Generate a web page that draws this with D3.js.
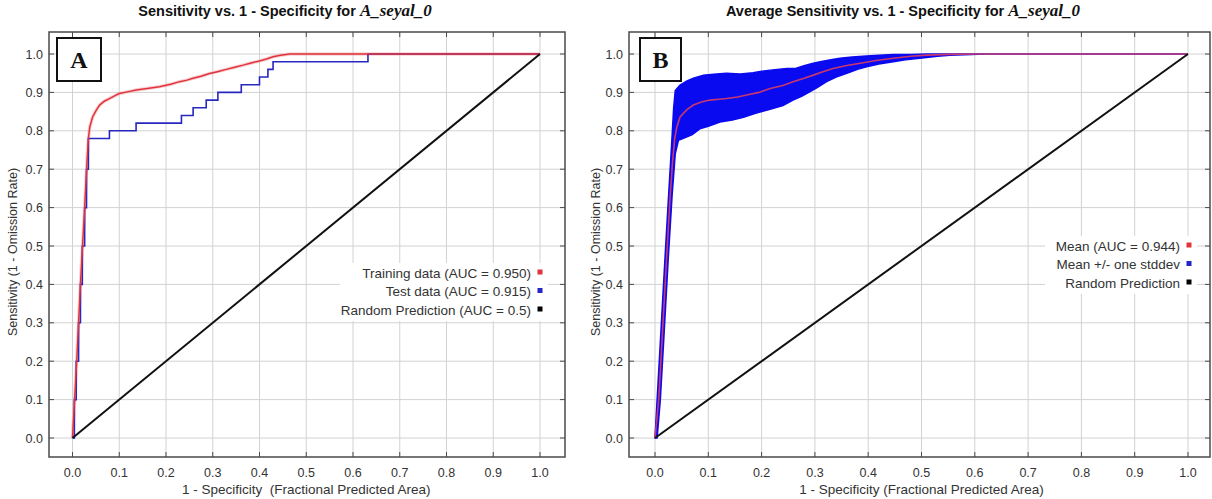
<!DOCTYPE html>
<html>
<head>
<meta charset="utf-8">
<script src="https://cdn.jsdelivr.net/npm/d3@7"></script>
<style>
  body { margin: 0; background: #fff; }
  svg { display: block; font-family: "Liberation Sans", Arial, sans-serif; }
</style>
</head>
<body>
<svg id="chart" width="1212" height="499"></svg>
<script>
// tick values (both axes)
const ticks = [0, 0.1, 0.2, 0.3, 0.4, 0.5, 0.6, 0.7, 0.8, 0.9, 1.0];

// panel A - training curve
const trainX = [0, 0.009, 0.017, 0.026, 0.031, 0.034, 0.037, 0.043, 0.05, 0.058, 0.068, 0.079, 0.09, 0.10, 0.12, 0.136, 0.16, 0.186, 0.21, 0.229, 0.245, 0.258, 0.275, 0.293, 0.31, 0.329, 0.345, 0.365, 0.38, 0.40, 0.415, 0.429, 0.445, 0.465, 1.0];
const trainY = [0, 0.20, 0.40, 0.60, 0.72, 0.78, 0.81, 0.836, 0.852, 0.867, 0.877, 0.884, 0.891, 0.897, 0.902, 0.906, 0.91, 0.915, 0.921, 0.928, 0.932, 0.937, 0.942, 0.949, 0.954, 0.96, 0.965, 0.971, 0.976, 0.982, 0.987, 0.993, 0.997, 1.0, 1.0];

// panel A - test curve (steps)
const testX = [0, 0.004, 0.008, 0.013, 0.017, 0.021, 0.026, 0.030, 0.034, 0.079, 0.136, 0.233, 0.258, 0.286, 0.311, 0.361, 0.400, 0.418, 0.429, 0.632, 1.0];
const testY = [0, 0.10, 0.20, 0.30, 0.40, 0.50, 0.60, 0.70, 0.78, 0.80, 0.82, 0.84, 0.86, 0.88, 0.90, 0.92, 0.94, 0.96, 0.98, 1.0, 1.0];

// panel B - mean curve
const meanX = [0, 0.007, 0.013, 0.021, 0.028, 0.033, 0.037, 0.041, 0.047, 0.06, 0.072, 0.087, 0.103, 0.12, 0.134, 0.155, 0.172, 0.195, 0.216, 0.24, 0.259, 0.28, 0.297, 0.315, 0.334, 0.36, 0.385, 0.415, 0.447, 0.48, 0.51, 0.55, 0.60, 1.0];
const meanY = [0, 0.10, 0.25, 0.45, 0.62, 0.72, 0.78, 0.81, 0.836, 0.855, 0.867, 0.875, 0.88, 0.882, 0.884, 0.888, 0.893, 0.90, 0.91, 0.918, 0.928, 0.937, 0.945, 0.954, 0.962, 0.97, 0.976, 0.983, 0.989, 0.994, 0.997, 0.999, 1.0, 1.0];

// panel B - mean +/- one stddev
const upperX = [0, 0.004, 0.01, 0.018, 0.025, 0.031, 0.035, 0.038, 0.047, 0.06, 0.072, 0.091, 0.11, 0.134, 0.16, 0.184, 0.2, 0.216, 0.247, 0.265, 0.278, 0.295, 0.31, 0.33, 0.347, 0.37, 0.397, 0.42, 0.447, 0.48, 0.51, 1.0];
const upperY = [0, 0.10, 0.25, 0.45, 0.62, 0.76, 0.86, 0.905, 0.919, 0.93, 0.937, 0.945, 0.947, 0.95, 0.948, 0.951, 0.955, 0.958, 0.962, 0.963, 0.969, 0.975, 0.98, 0.985, 0.989, 0.992, 0.995, 0.997, 0.999, 0.999, 1.0, 1.0];
const lowerX = [0.004, 0.01, 0.017, 0.025, 0.032, 0.038, 0.044, 0.059, 0.07, 0.084, 0.1, 0.122, 0.145, 0.166, 0.19, 0.216, 0.24, 0.259, 0.275, 0.291, 0.305, 0.322, 0.34, 0.36, 0.38, 0.397, 0.42, 0.447, 0.47, 0.497, 0.53, 0.553, 0.62, 1.0];
const lowerY = [0, 0.10, 0.27, 0.47, 0.63, 0.74, 0.775, 0.784, 0.79, 0.805, 0.812, 0.823, 0.828, 0.835, 0.846, 0.856, 0.866, 0.88, 0.89, 0.902, 0.913, 0.928, 0.94, 0.95, 0.96, 0.967, 0.974, 0.98, 0.985, 0.989, 0.994, 0.997, 1.0, 1.0];

// diagonal
const randomX = [0, 1];
const randomY = [0, 1];

const legendA = ['Training data (AUC = 0.950)', 'Test data (AUC = 0.915)', 'Random Prediction (AUC = 0.5)'];
const legendB = ['Mean (AUC = 0.944)', 'Mean +/- one stddev', 'Random Prediction'];
const legendColors = ['#e0343c', '#2424c8', '#000'];

const svg = d3.select('#chart');
const pts = (xs, ys) => xs.map((x, i) => [x, ys[i]]);

function panel(cfg) {
    const x = d3.scaleLinear().domain([0, 1]).range(cfg.xr);
    const y = d3.scaleLinear().domain([0, 1]).range([438, 54]);
    const g = svg.append('g');
    const [fl, fr, ft, fb] = [cfg.frame[0], cfg.frame[1], 32, 457];

    // grid
    g.selectAll('.gx').data(ticks).enter().append('line')
        .attr('x1', (d) => x(d)).attr('x2', (d) => x(d))
        .attr('y1', ft).attr('y2', fb)
        .attr('stroke', '#d2d2d2').attr('stroke-width', 1);
    g.selectAll('.gy').data(ticks).enter().append('line')
        .attr('x1', fl).attr('x2', fr)
        .attr('y1', (d) => y(d)).attr('y2', (d) => y(d))
        .attr('stroke', '#d2d2d2').attr('stroke-width', 1);

    const line = d3.line().x((d) => x(d[0])).y((d) => y(d[1]));
    cfg.draw(g, x, y, line);

    // diagonal
    g.append('path')
        .attr('d', line(pts(randomX, randomY)))
        .attr('fill', 'none').attr('stroke', '#111').attr('stroke-width', 2);

    // frame + inside ticks
    g.append('rect')
        .attr('x', fl).attr('y', ft).attr('width', fr - fl).attr('height', fb - ft)
        .attr('fill', 'none').attr('stroke', '#4a4a4a').attr('stroke-width', 1.5);
    ticks.forEach((t) => {
        g.append('line').attr('x1', x(t)).attr('x2', x(t)).attr('y1', fb).attr('y2', fb - 5).attr('stroke', '#4a4a4a');
        g.append('line').attr('x1', x(t)).attr('x2', x(t)).attr('y1', ft).attr('y2', ft + 5).attr('stroke', '#4a4a4a');
        g.append('line').attr('x1', fl).attr('x2', fl + 5).attr('y1', y(t)).attr('y2', y(t)).attr('stroke', '#4a4a4a');
        g.append('line').attr('x1', fr).attr('x2', fr - 5).attr('y1', y(t)).attr('y2', y(t)).attr('stroke', '#4a4a4a');
    });

    // tick labels
    g.selectAll('.tx').data(ticks).enter().append('text')
        .attr('x', (d) => x(d)).attr('y', 477)
        .attr('text-anchor', 'middle').attr('font-size', 12.5).attr('fill', '#333')
        .text((d) => d.toFixed(1));
    g.selectAll('.ty').data(ticks).enter().append('text')
        .attr('x', fl - 6).attr('y', (d) => y(d) + 4.5)
        .attr('text-anchor', 'end').attr('font-size', 12.5).attr('fill', '#333')
        .text((d) => d.toFixed(1));

    // axis titles
    g.append('text')
        .attr('x', (x(0) + x(1)) / 2).attr('y', 494)
        .attr('text-anchor', 'middle').attr('font-size', 13.5).attr('fill', '#333')
        .attr('xml:space', 'preserve')
        .text(cfg.xTitle);
    g.append('text')
        .attr('transform', `translate(${cfg.yTitleX},252) rotate(-90)`)
        .attr('text-anchor', 'middle').attr('font-size', 12.5).attr('fill', '#333')
        .text('Sensitivity (1 - Omission Rate)');

    // title
    const title = g.append('text').attr('x', cfg.titleX).attr('y', 16)
        .attr('text-anchor', 'middle')
        .attr('font-size', 14.5).attr('font-weight', 'bold').attr('fill', '#111');
    title.append('tspan').text(cfg.title);
    title.append('tspan')
        .attr('font-family', '"Liberation Serif", "Times New Roman", serif')
        .attr('font-style', 'italic').attr('font-size', 17)
        .text('A_seyal_0');

    // panel letter box
    g.append('rect')
        .attr('x', cfg.box[0]).attr('y', 38).attr('width', cfg.box[1]).attr('height', 43)
        .attr('fill', '#fff').attr('stroke', '#111').attr('stroke-width', 2);
    g.append('text')
        .attr('x', cfg.box[0] + cfg.box[1] / 2).attr('y', 68)
        .attr('text-anchor', 'middle')
        .attr('font-family', '"Liberation Serif", "Times New Roman", serif')
        .attr('font-weight', 'bold').attr('font-size', 24).attr('fill', '#111')
        .text(cfg.letter);

    // legend
    const lg = cfg.legend;
    g.append('rect')
        .attr('x', lg.boxX).attr('y', lg.top - 10).attr('width', lg.sqX + 8 - lg.boxX).attr('height', 18 * 3 + 4)
        .attr('fill', '#fff');
    lg.items.forEach((t, i) => {
        g.append('text')
            .attr('x', lg.sqX - 9).attr('y', lg.top + i * 18.5 + 4.5)
            .attr('text-anchor', 'end').attr('font-size', 13.5).attr('fill', '#333')
            .text(t);
        g.append('rect')
            .attr('x', lg.sqX - 2.5).attr('y', lg.top + i * 18.5 - 3.5)
            .attr('width', 5).attr('height', 5)
            .attr('fill', legendColors[i]);
    });
}

// panel A
panel({
    xr: [72.5, 540], frame: [49, 565], yTitleX: 17, titleX: 285, letter: 'A', box: [57, 44],
    title: 'Sensitivity vs. 1 - Specificity for ',
    xTitle: '1 - Specificity  (Fractional Predicted Area)',
    legend: { boxX: 340, sqX: 540, top: 273, items: legendA },
    draw: (g, x, y, line) => {
        g.append('path').attr('d', line(pts(trainX, trainY)))
            .attr('fill', 'none').attr('stroke', '#f2a0a8').attr('stroke-width', 3.5).attr('opacity', 0.5);
        g.append('path').attr('d', line.curve(d3.curveStepAfter)(pts(testX, testY)))
            .attr('fill', 'none').attr('stroke', '#2828c0').attr('stroke-width', 1.6);
        line.curve(d3.curveLinear);
        g.append('path').attr('d', line(pts(trainX, trainY)))
            .attr('fill', 'none').attr('stroke', '#e0343c').attr('stroke-width', 1.5);
    }
});

// panel B
panel({
    xr: [655, 1188], frame: [629, 1210], yTitleX: 600, titleX: 903, letter: 'B', box: [640, 41],
    title: 'Average Sensitivity vs. 1 - Specificity for ',
    xTitle: '1 - Specificity (Fractional Predicted Area)',
    legend: { boxX: 1045, sqX: 1189, top: 246, items: legendB },
    draw: (g, x, y, line) => {
        const band = pts(upperX, upperY).concat(pts(lowerX, lowerY).reverse());
        g.append('path').attr('d', line(band) + 'Z')
            .attr('fill', '#0a0af0').attr('stroke', '#0a0af0').attr('stroke-width', 1.5);
        g.append('path').attr('d', line(pts(meanX, meanY)))
            .attr('fill', 'none').attr('stroke', '#c8386e').attr('stroke-width', 1.6);
    }
});
</script>
</body>
</html>
